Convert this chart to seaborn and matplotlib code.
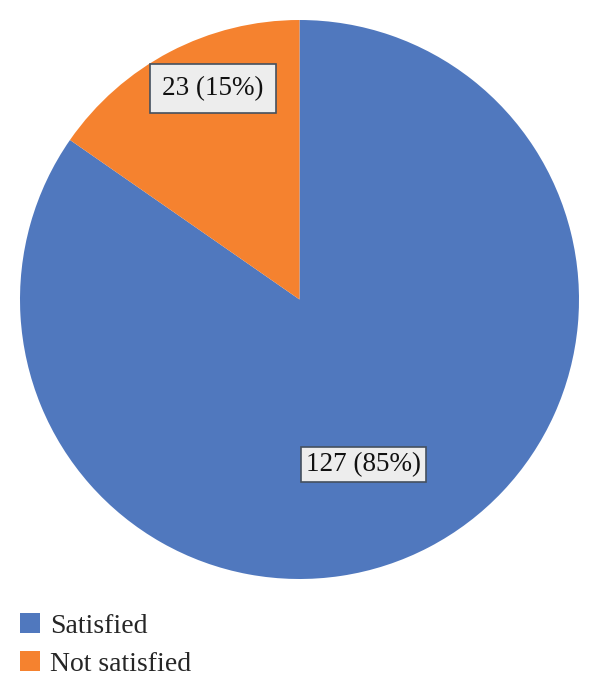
import numpy as np
import matplotlib
matplotlib.use("Agg")
import matplotlib.pyplot as plt
import seaborn as sns
from matplotlib.patches import Patch

# data
categories = ['Satisfied', 'Not satisfied']
counts = [127, 23]
colors = ['#5078BE', '#F5822F']

# label box centres (pie radius units) and padding
label_xy = [(0.229, -0.589), (-0.309, 0.755)]
label_pad = [0.18, 0.45]

sns.set_theme(style='white')
plt.rcParams['font.family'] = ['Liberation Serif', 'DejaVu Serif']

fig = plt.figure(figsize=(6.0, 6.94), dpi=100)
ax = fig.add_axes([20 / 600, (694 - 579) / 694, 559 / 600, 559 / 694])

wedges, _ = ax.pie(counts, colors=colors, startangle=90, counterclock=False,
                   wedgeprops=dict(linewidth=0))
ax.set_xlim(-1, 1)
ax.set_ylim(-1, 1)
ax.set_aspect('equal')
ax.axis('off')

total = sum(counts)
for c, (x, y), p in zip(counts, label_xy, label_pad):
    ax.text(x, y, f'{c} ({c / total:.0%})',
            ha='center', va='center', fontsize=19.5, color='#111111',
            bbox=dict(boxstyle=f'square,pad={p}', fc='#EDEDED', ec='#44505F', lw=1.2))

handles = [Patch(facecolor=col, edgecolor='none') for col in colors]
fig.legend(handles, categories, loc='upper left', bbox_to_anchor=(20 / 600, 1 - 613 / 694),
           frameon=False, fontsize=20, handlelength=0.72, handleheight=0.72,
           handletextpad=0.36, labelspacing=0.45, borderpad=0, borderaxespad=0)

fig.savefig('out.png', dpi=100)
